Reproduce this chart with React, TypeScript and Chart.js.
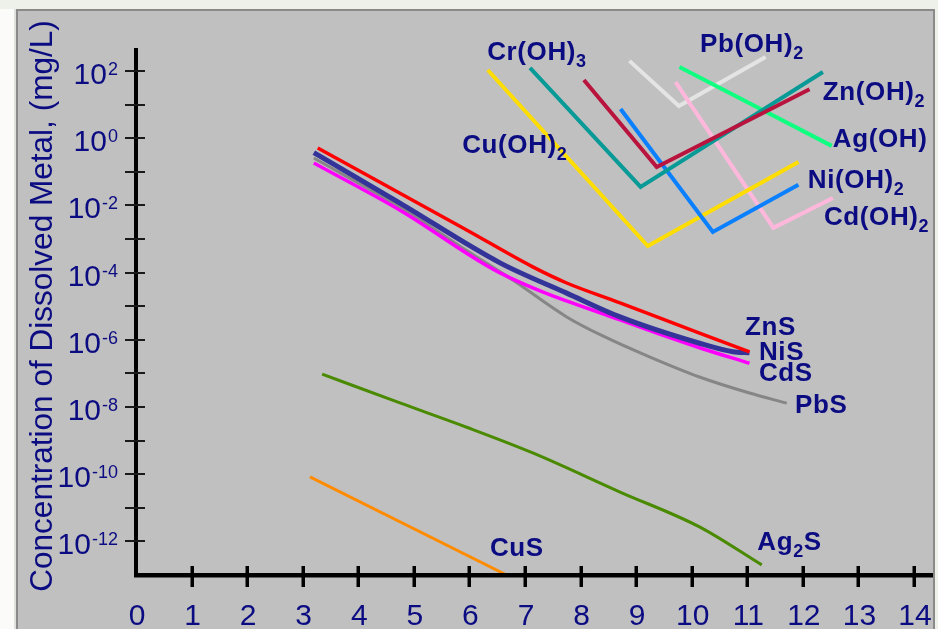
import React, { useEffect, useRef } from "react";
import { Chart, registerables } from "chart.js";

Chart.register(...registerables);

// ---- data (x = pH, y = concentration mg/L) ----
const znsX = [3.27, 4.75, 5.95, 7.14, 7.75, 8.71, 10.14, 11.04];
const znsY = [0.513, 2.3e-2, 1.86e-3, 1.48e-4, 4.9e-5, 1.26e-5, 1.58e-6, 4.4e-7];

const nisX = [3.2, 4.75, 6.55, 7.75, 8.71, 10.14, 10.74, 11.04];
const nisY = [0.372, 1.17e-2, 1.95e-4, 2.45e-5, 4.8e-6, 7.9e-7, 4.4e-7, 4.1e-7];

const cdsX = [3.2, 4.75, 6.55, 8.71, 10.14, 11.04];
const cdsY = [0.182, 7.2e-3, 9.8e-5, 3.9e-6, 5.8e-7, 2.0e-7];

const pbsX = [3.2, 4.75, 6.0, 6.78, 7.75, 8.4, 9.24, 10.14, 11.04, 11.71];
const pbsY = [0.257, 8.9e-3, 4.0e-4, 6.0e-5, 4.8e-6, 1.3e-6, 3.1e-7, 7.8e-8, 2.6e-8, 1.3e-8];

const ag2sX = [3.35, 4.75, 5.95, 7.14, 8.71, 10.14, 11.26];
const ag2sY = [9.5e-8, 1.32e-8, 2.5e-9, 4.3e-10, 2.95e-11, 2.7e-12, 2.0e-13];

const cusX = [3.13, 6.67];
const cusY = [8.3e-11, 1e-13];

const cuohX = [6.33, 9.21, 11.92];
const cuohY = [107, 6.2e-4, 0.195];

const crohX = [7.09, 9.08, 12.36];
const crohY = [123, 3.55e-2, 93];

const znohX = [8.06, 9.37, 12.12];
const znohY = [53.7, 0.138, 28.8];

const niohX = [8.72, 10.38, 11.92];
const niohY = [7.4, 1.62e-3, 4.1e-2];

const pbohX = [8.88, 9.77, 11.33];
const pbohY = [200, 9.1, 263];

const agohX = [9.78, 12.52];
const agohY = [132, 0.59];

const cdohX = [9.71, 11.47, 12.54];
const cdohY = [46.8, 2.14e-3, 1.66e-2];

const xTicks = [1, 2, 3, 4, 5, 6, 7, 8, 9, 10, 11, 12, 13, 14];
const xTickLabels = ["0", "1", "2", "3", "4", "5", "6", "7", "8", "9", "10", "11", "12", "13", "14"];
const yMinorDecades = [-12, -11, -10, -9, -8, -7, -6, -5, -4, -3, -2, -1, 0, 1, 2];
const yLabelExponents = ["2", "0", "-2", "-4", "-6", "-8", "-10", "-12"];

const yTitle = "Concentration of Dissolved Metal, (mg/L)";

// series labels (anchored in data units: left edge, baseline)
const seriesLabels = [
  { main: "Cr(OH)", sub: "3", after: "", x: 6.32, y: 214 },
  { main: "Cu(OH)", sub: "2", after: "", x: 5.87, y: 0.363 },
  { main: "Pb(OH)", sub: "2", after: "", x: 10.15, y: 372 },
  { main: "Zn(OH)", sub: "2", after: "", x: 12.36, y: 13.8 },
  { main: "Ag(OH)", sub: "", after: "", x: 12.54, y: 0.55 },
  { main: "Ni(OH)", sub: "2", after: "", x: 12.09, y: 3.3e-2 },
  { main: "Cd(OH)", sub: "2", after: "", x: 12.38, y: 2.63e-3 },
  { main: "ZnS", sub: "", after: "", x: 10.96, y: 1.38e-6 },
  { main: "NiS", sub: "", after: "", x: 11.21, y: 2.5e-7 },
  { main: "CdS", sub: "", after: "", x: 11.21, y: 5.9e-8 },
  { main: "PbS", sub: "", after: "", x: 11.86, y: 6.6e-9 },
  { main: "Ag", sub: "2", after: "S", x: 11.18, y: 5.5e-13 },
  { main: "CuS", sub: "", after: "", x: 6.37, y: 3.7e-13 },
];

const NAVY = "#0b0b82";

function pts(xs: number[], ys: number[]) {
  return xs.map((x, i) => ({ x, y: ys[i] }));
}

const framePlugin = {
  id: "frame",
  beforeDraw(chart: any) {
    const ctx = chart.ctx as CanvasRenderingContext2D;
    const W = chart.width;
    const H = chart.height;
    ctx.save();
    ctx.fillStyle = "#eef1ea";
    ctx.fillRect(0, 0, W, H);
    ctx.fillStyle = "#fbfcfa";
    ctx.fillRect(0, 9, 14, H - 9);
    ctx.fillStyle = "#dfe1dd";
    ctx.fillRect(14, 9, 2, H - 9);
    ctx.fillStyle = "#8a8a8a";
    ctx.fillRect(16, 9, 935 - 16, H - 9);
    ctx.fillStyle = "#c0c0c0";
    ctx.fillRect(18, 11, 933 - 18, H - 11);
    ctx.restore();
  },
};

const overlayPlugin = {
  id: "overlay",
  afterDatasetsDraw(chart: any) {
    const ctx = chart.ctx as CanvasRenderingContext2D;
    const xs = chart.scales.x;
    const ys = chart.scales.y;
    const x0 = xs.getPixelForValue(0);
    const yBottom = ys.getPixelForValue(1e-13);
    ctx.save();

    // axes lines
    ctx.fillStyle = "#000";
    ctx.fillRect(x0 - 2, 48, 4, yBottom - 48 + 2);
    ctx.fillRect(x0 - 2, yBottom - 2, 933 - (x0 - 2), 4.5);

    // y ticks every decade
    ctx.fillStyle = "#1a1a1a";
    yMinorDecades.forEach((e) => {
      const py = ys.getPixelForValue(Math.pow(10, e));
      ctx.fillRect(x0 - 11, Math.round(py) - 1, 20, 2);
    });
    // x ticks
    ctx.fillStyle = "#000";
    xTicks.forEach((v) => {
      const px = xs.getPixelForValue(v);
      ctx.fillRect(Math.round(px) - 1.5, yBottom - 9, 3.5, 21);
    });

    // x tick labels
    ctx.fillStyle = NAVY;
    ctx.font = '30px "Liberation Sans", Arial, sans-serif';
    ctx.textAlign = "center";
    ctx.textBaseline = "alphabetic";
    xTickLabels.forEach((t, i) => {
      const px = xs.getPixelForValue(i);
      ctx.fillText(t, px + 1, 625);
    });

    // y tick labels 10^n
    ctx.textAlign = "left";
    yLabelExponents.forEach((exp) => {
      const py = ys.getPixelForValue(Math.pow(10, Number(exp)));
      ctx.font = '30px "Liberation Sans", Arial, sans-serif';
      const mainW = ctx.measureText("10").width;
      ctx.font = '18px "Liberation Sans", Arial, sans-serif';
      const supW = ctx.measureText(exp).width;
      const right = 118;
      const left = right - supW - mainW - 1;
      const base = py + 13;
      ctx.font = '30px "Liberation Sans", Arial, sans-serif';
      ctx.fillText("10", left, base);
      ctx.font = '18px "Liberation Sans", Arial, sans-serif';
      ctx.fillText(exp, left + mainW + 1, base - 9);
    });

    // y axis title
    ctx.save();
    let fs = 31;
    ctx.font = `${fs}px "Liberation Sans", Arial, sans-serif`;
    const tw = ctx.measureText(yTitle).width;
    fs = (fs * 572) / tw;
    ctx.font = `${fs}px "Liberation Sans", Arial, sans-serif`;
    ctx.translate(52, 306);
    ctx.rotate(-Math.PI / 2);
    ctx.textAlign = "center";
    ctx.fillText(yTitle, 0, 0);
    ctx.restore();

    // series labels
    ctx.textAlign = "left";
    const c: any = ctx;
    c.letterSpacing = "0.6px";
    seriesLabels.forEach((l) => {
      const px = xs.getPixelForValue(l.x);
      const py = ys.getPixelForValue(l.y);
      ctx.font = 'bold 26px "Liberation Sans", Arial, sans-serif';
      ctx.fillText(l.main, px, py);
      let cx = px + ctx.measureText(l.main).width;
      if (l.sub) {
        ctx.font = 'bold 18px "Liberation Sans", Arial, sans-serif';
        ctx.fillText(l.sub, cx, py + 7);
        cx += ctx.measureText(l.sub).width;
      }
      if (l.after) {
        ctx.font = 'bold 26px "Liberation Sans", Arial, sans-serif';
        ctx.fillText(l.after, cx, py);
      }
    });
    c.letterSpacing = "0px";

    ctx.restore();
  },
};

export default function App() {
  const ref = useRef<HTMLCanvasElement | null>(null);
  useEffect(() => {
    if (!ref.current) return;
    const curve = (label: string, xs: number[], ys: number[], color: string, width: number, order: number) => ({
      label,
      data: pts(xs, ys),
      borderColor: color,
      backgroundColor: color,
      borderWidth: width,
      cubicInterpolationMode: "monotone" as const,
      pointRadius: 0,
      fill: false,
      order,
    });
    const poly = (label: string, xs: number[], ys: number[], color: string, width: number, order: number) => ({
      label,
      data: pts(xs, ys),
      borderColor: color,
      backgroundColor: color,
      borderWidth: width,
      tension: 0,
      pointRadius: 0,
      fill: false,
      order,
      borderJoinStyle: "miter" as const,
    });
    const chart = new Chart(ref.current, {
      type: "line",
      data: {
        datasets: [
          curve("ZnS", znsX, znsY, "#ff0000", 3.5, 1),
          curve("NiS", nisX, nisY, "#333399", 5, 2),
          curve("PbS", pbsX, pbsY, "#868686", 3, 4),
          curve("CdS", cdsX, cdsY, "#ff00ff", 3.5, 3),
          curve("Ag2S", ag2sX, ag2sY, "#4a8a00", 3, 5),
          poly("CuS", cusX, cusY, "#ff8c00", 3, 6),
          poly("Pb(OH)2", pbohX, pbohY, "#e4e4e4", 4, 14),
          poly("Ag(OH)", agohX, agohY, "#10ff80", 4, 13),
          poly("Cd(OH)2", cdohX, cdohY, "#ffb8dc", 4, 12),
          poly("Cu(OH)2", cuohX, cuohY, "#ffdd00", 4, 11),
          poly("Ni(OH)2", niohX, niohY, "#0a80ff", 4, 10),
          poly("Cr(OH)3", crohX, crohY, "#089a96", 4, 9),
          poly("Zn(OH)2", znohX, znohY, "#b8143e", 4, 8),
        ],
      },
      options: {
        responsive: false,
        animation: false,
        devicePixelRatio: 1,
        layout: { padding: { left: 136, right: 24, top: 37.4, bottom: 54 } },
        scales: {
          x: { type: "linear", min: 0, max: 14, display: false },
          y: { type: "logarithmic", min: 1e-13, max: 1e3, display: false },
        },
        plugins: {
          legend: { display: false },
          tooltip: { enabled: false },
        },
        elements: { point: { radius: 0 } },
      },
      plugins: [framePlugin, overlayPlugin],
    });
    return () => chart.destroy();
  }, []);
  return (
    <div style={{ position: "fixed", left: 0, top: 0, width: 938, height: 629 }}>
      <canvas ref={ref} width={938} height={629} style={{ display: "block" }} />
    </div>
  );
}
